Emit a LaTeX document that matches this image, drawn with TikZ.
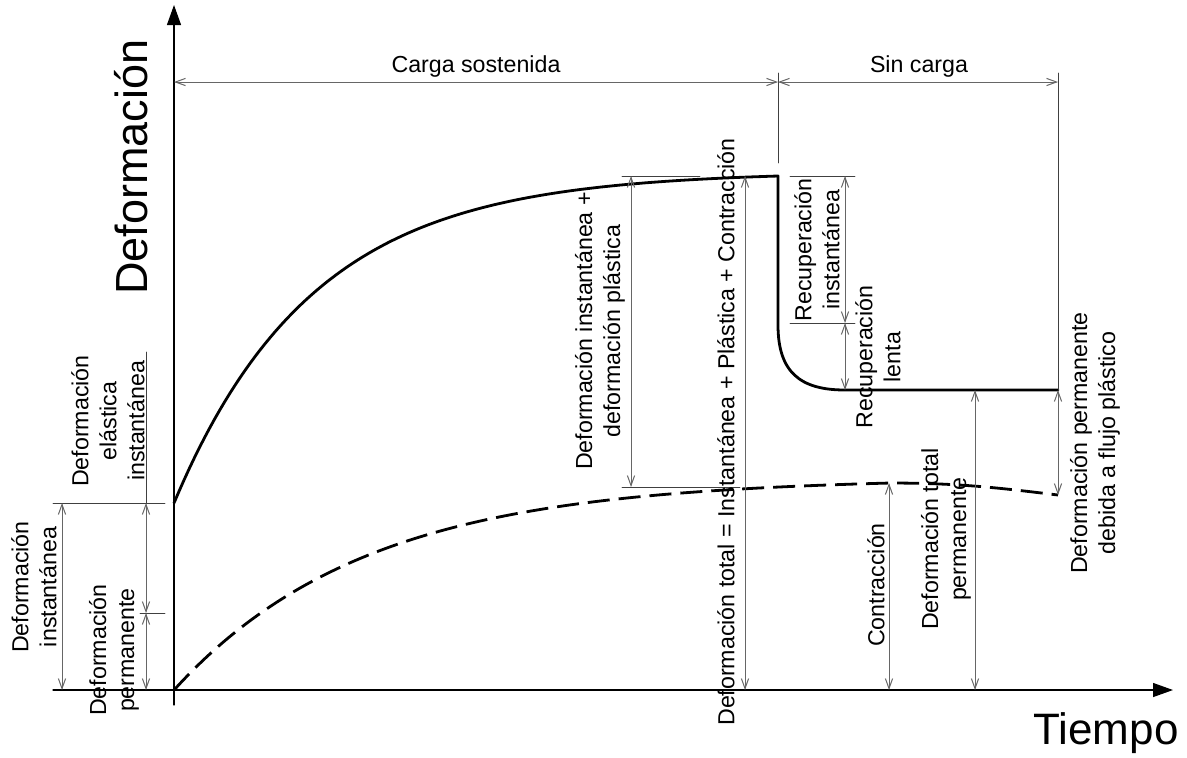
\documentclass[tikz,border=0pt]{standalone}
\usepackage{fontspec}
\setmainfont{Liberation Sans}
\usetikzlibrary{arrows.meta}

\begin{document}
\begin{tikzpicture}[line cap=round,line join=round,x=0.5pt,y=-0.5pt,
    cota/.style={line width=0.5pt,color=black!60,{Straight Barb[length=5pt,width=3.6pt]}-{Straight Barb[length=5pt,width=3.6pt]}},
    guia/.style={line width=0.45pt,color=black!75},
    eje/.style={line width=0.6pt,-{Triangle[length=10pt,width=7pt]}},
    curva/.style={line width=1.4pt},
    rotulo/.style={rotate=90,align=center,inner sep=0pt,font=\fontsize{11.6}{14}\selectfont}]
    \useasboundingbox (0,0) rectangle (1187,757);
    % ejes
    \draw [eje] (174,705) -- (174,5);
    \draw [eje] (53,690) -- (1173,690);
    \node [rotate=90,inner sep=0pt,font=\fontsize{22.5}{27}\selectfont] (ejey) at (131,167) {Deformación};
    \node [inner sep=0pt,font=\fontsize{22}{26}\selectfont] (ejex) at (1106,733) {Tiempo};
    % curvas
    \draw [curva] plot[domain=174:778,samples=120] (\x,{503-327*(1-exp(-0.0072*(\x-174)))/(1-exp(-4.3488))})
        -- (778,325) .. controls (778,372) and (800,390) .. (845,390) -- (1058,390);
    \draw [curva,line cap=butt,dash pattern=on 11pt off 4.5pt] plot[domain=174:890,samples=120] (\x,{690-207*(1-exp(-0.0052*(\x-174)))/(1-exp(-3.7232))})
        .. controls (960,483) and (1000,488) .. (1058,495);
    % cotas superiores
    \draw [guia] (778,73) -- (778,163);
    \draw [guia] (1058,73) -- (1058,390);
    \draw [cota] (174,82) -- (778,82);
    \draw [cota] (778,82) -- (1058,82);
    \node (carga) at (476,66) [inner sep=0pt,font=\fontsize{11.6}{14}\selectfont] {Carga sostenida};
    \node (sincarga) at (919,66) [inner sep=0pt,font=\fontsize{11.6}{14}\selectfont] {Sin carga};
    % cotas izquierda
    \draw [guia] (53,503) -- (165,503);
    \draw [guia] (140,613) -- (165,613);
    \draw [guia] (146,352) -- (146,503);
    \draw [cota] (62,503) -- (62,690);
    \draw [cota] (146,503) -- (146,613);
    \draw [cota] (146,613) -- (146,690);
    \node [rotulo] (instant) at (34,587) {Deformación\\instantánea};
    \node [rotulo] (elastica) at (108,421) {Deformación\\elástica\\instantánea};
    \node [rotulo] (perm) at (114,650) {Deformación\\permanente};
    % cotas centrales
    \draw [guia] (622,176) -- (700,176);
    \draw [guia] (622,487) -- (740,487);
    \draw [cota] (631,176) -- (631,487);
    \draw [cota] (745,176) -- (745,690);
    \node [rotulo] (plastica) at (600,331) {Deformación instantánea +\\deformación plástica};
    \node [rotulo] (total) at (726,432) {Deformación total = Instantánea + Plástica + Contracción};
    % cotas derecha
    \draw [guia] (790,176) -- (855,176);
    \draw [guia] (790,323) -- (855,323);
    \draw [cota] (845,176) -- (845,323);
    \draw [cota] (845,323) -- (845,390);
    \draw [cota] (889,483) -- (889,690);
    \draw [cota] (975,390) -- (975,690);
    \draw [cota] (1058,390) -- (1058,495);
    \node [rotulo] (recinst) at (817,250) {Recuperación\\instantánea};
    \node [rotulo] (reclenta) at (878,357) {Recuperación\\lenta};
    \node [rotulo] (contr) at (876,585) {Contracción};
    \node [rotulo] (totperm) at (946,539) {Deformación total\\permanente};
    \node [rotulo] (flujo) at (1095,443) {Deformación permanente\\debida a flujo plástico};
\end{tikzpicture}
\end{document}
